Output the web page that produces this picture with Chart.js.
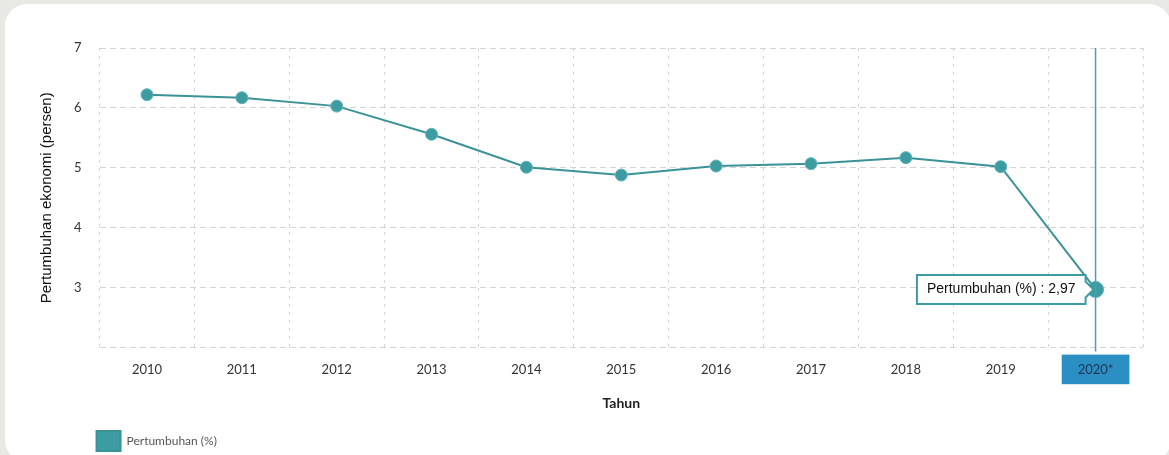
<!DOCTYPE html>
<html>
<head>
<meta charset="utf-8">
<script src="https://cdn.jsdelivr.net/npm/chart.js@4"></script>
<style>
  html, body { margin: 0; padding: 0; background: #e8e8e4; overflow: hidden; }
  #card {
    position: absolute; left: 5px; top: 4px; width: 1166px; height: 458px;
    background: #fff; border-radius: 22px;
  }
  #wrap { position: absolute; left: 0; top: 0; width: 1169px; height: 455px; }
</style>
</head>
<body>
<div id="card"></div>
<div id="wrap"><canvas id="growthChart"></canvas></div>
<script>
// Data
const years = ['2010', '2011', '2012', '2013', '2014', '2015', '2016', '2017', '2018', '2019', '2020*'];
const growth = [6.22, 6.17, 6.03, 5.56, 5.01, 4.88, 5.03, 5.07, 5.17, 5.02, 2.97];
const yTicks = [2, 3, 4, 5, 6, 7];
const seriesName = 'Pertumbuhan (%)';
const activeIndex = 10;

const teal = '#3d9ca1';
const gridColor = '#d4d4d4';
const narrowFont = "'Liberation Sans Narrow', 'Liberation Sans', Arial";

// vertical crosshair through the highlighted year
const crosshair = {
	id: 'crosshair',
	afterDatasetsDraw(chart) {
		const pt = chart.getDatasetMeta(0).data[activeIndex];
		const {ctx, chartArea} = chart;
		ctx.save();
		ctx.strokeStyle = '#4f9cb0';
		ctx.lineWidth = 1.5;
		ctx.beginPath();
		ctx.moveTo(pt.x, chartArea.top);
		ctx.lineTo(pt.x, chartArea.bottom + 4);
		ctx.stroke();
		ctx.restore();
	},
};

// push legend to line up with the plot area, and a bit lower
const legendShift = {
	id: 'legendShift',
	afterLayout(chart) {
		const shift = chart.chartArea.left - chart.legend.left - 5;
		chart.legend.left += shift;
		chart.legend.right += shift;
		chart.legend.top += 6;
		chart.legend.bottom += 6;
	},
};

const chart = new Chart(document.getElementById('growthChart'), {
	type: 'line',
	data: {
		labels: years,
		datasets: [
			{
				label: seriesName,
				data: growth,
				borderColor: '#3b9297',
				backgroundColor: teal,
				borderWidth: 2,
				pointRadius: 6,
				pointHoverRadius: 8,
				pointBackgroundColor: teal,
				pointBorderColor: '#5fb3b8',
				pointBorderWidth: 1,
				pointHoverBackgroundColor: teal,
				pointHoverBorderColor: '#5fb3b8',
				pointHoverBorderWidth: 1,
				tension: 0,
			},
		],
	},
	options: {
		responsive: true,
		maintainAspectRatio: false,
		animation: false,
		events: [],
		layout: {padding: {left: 38, right: 26, top: 48, bottom: 0}},
		scales: {
			x: {
				offset: true,
				grid: {color: gridColor, offset: true, drawTicks: false},
				border: {display: false, dash: [3, 5]},
				ticks: {
					padding: 14,
					font: {family: 'Lato', size: 13},
					color: (ctx) => (ctx.index === activeIndex ? '#1d3550' : '#333'),
					showLabelBackdrop: true,
					backdropColor: (ctx) => (ctx.index === activeIndex ? '#2b8fc3' : 'rgba(0,0,0,0)'),
					backdropPadding: {left: 16, right: 16, top: 7, bottom: 7},
				},
				title: {
					display: true,
					text: 'Tahun',
					font: {family: 'Lato', size: 14, weight: 'bold'},
					color: '#222',
					padding: {top: 4, bottom: 11},
				},
			},
			y: {
				min: 2,
				max: 7,
				afterBuildTicks: (axis) => {
					axis.ticks = yTicks.map((v) => ({value: v}));
				},
				grid: {color: gridColor, drawTicks: false},
				border: {display: false, dash: [6, 4]},
				ticks: {
					padding: 18,
					font: {family: 'Lato', size: 13},
					color: '#333',
					callback: (v) => (v === 2 ? '' : v),
				},
				title: {
					display: true,
					text: 'Pertumbuhan ekonomi (persen)',
					font: {family: narrowFont, size: 15},
					color: '#111',
					padding: {top: 0, bottom: 0},
				},
			},
		},
		plugins: {
			legend: {
				position: 'bottom',
				align: 'start',
				labels: {
					boxWidth: 24,
					boxHeight: 20,
					padding: 2,
					font: {family: 'Lato', size: 12},
					color: '#555',
				},
			},
			tooltip: {
				enabled: true,
				backgroundColor: '#fff',
				borderColor: '#3d9ca1',
				borderWidth: 2,
				bodyColor: '#111',
				bodyFont: {family: narrowFont, size: 14},
				displayColors: false,
				cornerRadius: 0,
				caretSize: 8,
				caretPadding: 2,
				xAlign: 'right',
				yAlign: 'center',
				padding: {left: 10, right: 10, top: 6, bottom: 6},
				callbacks: {
					title: () => '',
					label: (ctx) => `${seriesName} : ${String(ctx.parsed.y).replace('.', ',')}`,
				},
			},
		},
	},
	plugins: [crosshair, legendShift],
});

// show the 2020 point as hovered, with its tooltip
const activeEls = [{datasetIndex: 0, index: activeIndex}];
const activePt = chart.getDatasetMeta(0).data[activeIndex];
chart.setActiveElements(activeEls);
chart.tooltip.setActiveElements(activeEls, {x: activePt.x, y: activePt.y});
chart.update();
</script>
</body>
</html>
